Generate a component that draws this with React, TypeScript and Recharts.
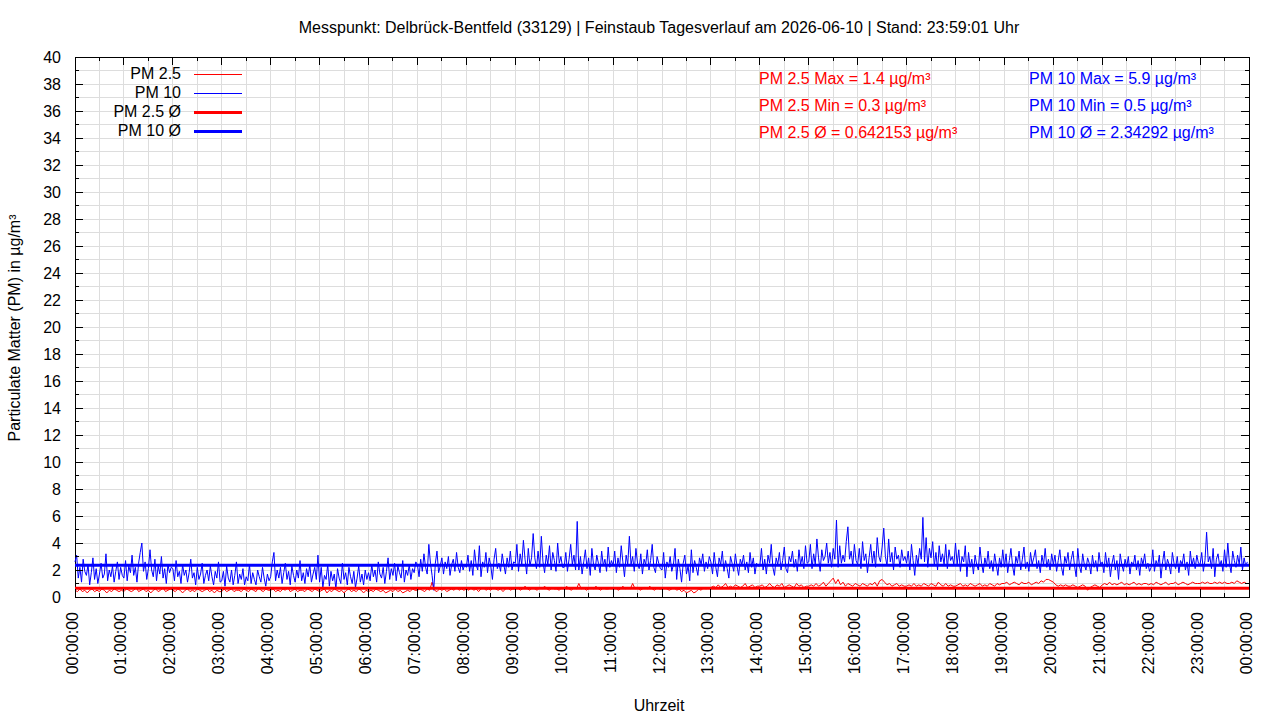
import { LineChart, Line, XAxis, YAxis, CartesianGrid, ReferenceLine, ReferenceArea } from "recharts";

// PM 10: one reading every 2 minutes (30 per hour), PM 2.5: every 3 minutes (20 per hour)
const PM10_STEP_MIN = 2;
const PM25_STEP_MIN = 3;

const pm10Values = [
    2.6, 3.1, 1.4, 2.2, 1.1, 2.8, 1.9, 1.6, 2.4, 0.9, 1.8, 2.9, 1.3, 2.1, 1.0, 1.7, 2.5, 1.4, 1.7, 3.2, 1.2, 2.0, 1.5, 2.3, 1.1, 1.9, 2.6, 1.3, 2.2, 1.6,
    1.4, 2.7, 1.2, 2.3, 1.8, 3.1, 1.6, 2.2, 1.1, 2.5, 3.3, 4.0, 1.9, 2.6, 1.3, 2.1, 3.5, 2.0, 1.5, 2.8, 1.2, 2.3, 1.7, 3.0, 1.4, 2.1, 1.0, 2.4, 1.8, 2.2,
    2.1, 1.2, 2.7, 1.5, 1.9, 1.0, 2.4, 1.6, 2.0, 1.1, 1.8, 2.8, 1.4, 1.8, 0.9, 2.2, 1.3, 1.7, 2.5, 1.0, 1.6, 2.0, 1.2, 2.3, 1.5, 0.9, 1.9, 1.4, 2.6, 1.1,
    1.2, 1.9, 0.8, 2.3, 1.4, 1.1, 2.0, 0.9, 1.6, 2.6, 1.0, 1.7, 1.3, 2.1, 0.9, 1.5, 1.2, 2.4, 1.0, 1.8, 1.3, 0.9, 2.0, 1.5, 1.1, 2.2, 1.4, 0.8, 1.7, 1.2,
    1.5, 2.6, 3.3, 1.2, 2.0, 1.4, 2.2, 1.0, 1.8, 2.5, 1.3, 1.9, 0.9, 2.3, 1.6, 1.1, 2.0, 1.4, 2.7, 1.2, 1.8, 1.0, 2.1, 1.5, 2.4, 1.1, 1.7, 2.2, 1.3, 3.1,
    1.1, 2.2, 0.7, 1.6, 1.3, 2.4, 0.8, 1.9, 1.2, 1.7, 0.6, 2.1, 1.4, 1.0, 2.5, 1.3, 1.8, 0.9, 2.2, 1.5, 1.0, 1.9, 0.7, 1.4, 2.3, 1.1, 1.7, 0.9, 2.0, 1.3,
    1.8, 1.2, 2.4, 1.5, 2.0, 1.1, 2.6, 1.7, 1.4, 2.2, 1.0, 1.9, 2.9, 1.3, 2.1, 1.6, 2.5, 1.2, 2.3, 1.8, 1.4, 2.7, 1.1, 2.0, 1.6, 2.4, 1.3, 2.1, 1.8, 2.6,
    2.4, 1.5, 2.8, 1.9, 3.2, 2.2, 1.7, 3.9, 2.5, 1.6, 0.5, 2.5, 3.4, 1.8, 2.3, 2.9, 1.7, 2.6, 2.1, 3.0, 1.6, 2.4, 2.8, 1.9, 3.3, 2.2, 1.8, 2.7, 2.0, 2.4,
    2.2, 3.1, 1.9, 2.7, 1.6, 3.5, 2.4, 2.0, 3.8, 1.5, 2.6, 2.2, 3.3, 1.8, 2.9, 2.3, 1.3, 2.8, 3.6, 2.1, 2.5, 1.9, 3.2, 2.4, 1.7, 2.9, 2.2, 3.4, 2.0, 2.6,
    2.5, 3.9, 1.9, 3.2, 2.4, 4.2, 2.8, 1.7, 3.6, 2.3, 2.9, 4.7, 2.9, 2.1, 3.4, 2.2, 4.5, 2.6, 1.8, 3.1, 2.4, 3.8, 2.0, 3.3, 2.7, 1.9, 4.0, 2.5, 3.0, 2.2,
    2.2, 3.3, 1.9, 2.8, 3.9, 2.4, 3.1, 2.0, 5.6, 2.0, 3.0, 1.7, 2.6, 3.5, 2.1, 2.9, 1.6, 3.6, 2.4, 2.0, 3.1, 2.5, 1.8, 3.4, 2.3, 2.8, 1.9, 3.7, 2.2, 2.7,
    2.3, 3.4, 1.8, 2.9, 2.2, 3.8, 2.6, 1.5, 3.1, 2.4, 4.5, 2.4, 3.0, 1.9, 3.6, 2.5, 2.1, 3.2, 1.7, 2.8, 2.4, 3.5, 2.0, 2.7, 3.9, 2.2, 1.8, 3.0, 2.5, 2.1,
    2.0, 3.3, 1.4, 2.6, 2.2, 3.0, 1.9, 2.4, 3.6, 1.3, 2.8, 2.1, 1.1, 2.5, 3.1, 1.7, 2.3, 1.2, 3.5, 1.8, 2.7, 2.2, 1.6, 2.9, 2.4, 3.2, 1.9, 2.6, 2.1, 3.0,
    2.6, 1.7, 3.3, 2.2, 1.5, 2.9, 2.4, 3.4, 1.9, 2.7, 2.1, 1.4, 3.0, 2.5, 1.9, 3.2, 2.3, 1.6, 2.8, 2.4, 3.1, 2.0, 2.6, 1.8, 3.3, 2.2, 2.9, 1.7, 2.5, 2.3,
    2.3, 3.6, 2.0, 2.8, 1.7, 3.1, 2.5, 3.9, 2.2, 1.6, 2.9, 2.4, 3.3, 2.0, 2.7, 3.7, 2.1, 1.8, 3.0, 2.6, 3.4, 2.2, 2.8, 1.9, 3.5, 2.4, 3.0, 2.1, 3.8, 2.5,
    2.6, 3.9, 2.1, 3.2, 2.4, 4.3, 2.9, 1.9, 3.5, 2.7, 3.0, 4.0, 2.5, 3.3, 2.2, 3.6, 2.8, 5.7, 2.2, 3.8, 2.5, 3.1, 2.6, 4.1, 5.2, 2.8, 3.4, 2.3, 3.9, 2.7,
    2.4, 3.6, 2.1, 4.1, 2.7, 3.2, 1.8, 2.9, 3.9, 2.5, 3.4, 2.2, 4.4, 3.0, 2.6, 3.7, 5.1, 3.0, 2.3, 4.3, 2.6, 3.3, 2.0, 3.7, 2.8, 3.1, 2.2, 3.5, 2.7, 3.0,
    2.5, 3.4, 2.0, 3.9, 2.7, 1.6, 3.1, 2.4, 3.6, 2.8, 5.9, 2.6, 4.4, 2.2, 3.6, 2.9, 4.1, 2.3, 3.3, 2.0, 3.8, 2.6, 3.2, 2.4, 3.9, 2.1, 3.5, 2.7, 3.0, 2.4,
    4.0, 2.4, 3.5, 1.9, 3.0, 2.6, 3.8, 1.5, 3.3, 2.2, 2.8, 1.7, 3.1, 2.4, 2.0, 3.7, 2.5, 1.8, 2.9, 2.3, 3.4, 2.1, 2.7, 1.9, 3.2, 2.4, 1.6, 2.9, 2.2, 3.5,
    2.2, 3.2, 1.8, 2.7, 3.6, 2.3, 1.6, 3.0, 2.5, 3.4, 2.0, 2.8, 3.7, 2.1, 2.6, 1.9, 3.3, 2.4, 2.9, 3.5, 2.1, 2.7, 1.8, 3.1, 2.4, 3.6, 2.2, 2.8, 2.0, 3.2,
    2.4, 3.1, 1.9, 2.7, 3.5, 2.2, 1.6, 3.0, 2.5, 3.3, 2.0, 2.8, 3.4, 2.3, 1.5, 3.6, 2.3, 1.8, 3.2, 2.4, 2.0, 2.9, 2.5, 1.7, 3.1, 2.2, 2.7, 1.9, 3.3, 2.4,
    2.6, 1.8, 3.3, 2.2, 2.9, 1.5, 2.5, 3.1, 2.0, 2.7, 1.3, 3.2, 2.4, 1.9, 2.8, 2.2, 3.0, 1.7, 2.6, 2.3, 3.1, 2.0, 2.7, 1.6, 2.9, 2.4, 3.2, 2.1, 2.5, 1.9,
    2.2, 3.5, 1.9, 2.7, 2.3, 3.1, 1.4, 2.6, 3.4, 2.0, 2.8, 2.4, 1.7, 3.3, 2.5, 2.1, 3.0, 1.8, 2.7, 2.4, 3.2, 2.0, 2.6, 1.6, 3.4, 2.3, 2.9, 2.1, 3.1, 2.5,
    2.4, 3.3, 1.9, 2.7, 4.8, 2.6, 3.0, 2.1, 3.6, 1.5, 2.8, 3.2, 2.3, 2.7, 1.9, 3.5, 2.2, 4.0, 2.5, 1.8, 3.4, 2.7, 2.2, 3.1, 2.4, 3.7, 2.0, 2.9, 2.3, 2.6,
];

const pm25Values = [
    0.5, 0.4, 0.6, 0.4, 0.5, 0.3, 0.5, 0.6, 0.4, 0.5, 0.4, 0.6, 0.5, 0.3, 0.5, 0.4, 0.6, 0.5, 0.4, 0.5,
    0.4, 0.6, 0.5, 0.4, 0.5, 0.7, 0.4, 0.5, 0.6, 0.4, 0.5, 0.3, 0.5, 0.6, 0.4, 0.5, 0.7, 0.4, 0.5, 0.6,
    0.5, 0.4, 0.6, 0.5, 0.3, 0.5, 0.6, 0.4, 0.5, 0.4, 0.6, 0.5, 0.4, 0.5, 0.6, 0.4, 0.5, 0.3, 0.5, 0.4,
    0.4, 0.6, 0.4, 0.5, 0.6, 0.4, 0.5, 0.5, 0.4, 0.6, 0.5, 0.4, 0.6, 0.5, 0.4, 0.7, 0.5, 0.4, 0.6, 0.5,
    0.5, 0.6, 0.4, 0.5, 0.4, 0.6, 0.5, 0.7, 0.4, 0.5, 0.6, 0.4, 0.5, 0.5, 0.4, 0.6, 0.5, 0.4, 0.6, 0.5,
    0.4, 0.5, 0.6, 0.3, 0.5, 0.4, 0.6, 0.5, 0.4, 0.5, 0.3, 0.5, 0.6, 0.4, 0.5, 0.4, 0.6, 0.5, 0.3, 0.5,
    0.4, 0.5, 0.4, 0.6, 0.5, 0.4, 0.5, 0.3, 0.4, 0.5, 0.4, 0.6, 0.4, 0.5, 0.3, 0.4, 0.5, 0.4, 0.6, 0.5,
    0.5, 0.6, 0.5, 0.4, 0.6, 0.5, 1.1, 0.5, 0.4, 0.6, 0.5, 0.6, 0.4, 0.5, 0.6, 0.5, 0.7, 0.5, 0.6, 0.5,
    0.6, 0.5, 0.7, 0.5, 0.6, 0.4, 0.6, 0.7, 0.5, 0.6, 0.5, 0.7, 0.6, 0.5, 0.6, 0.4, 0.6, 0.7, 0.5, 0.6,
    0.6, 0.7, 0.5, 0.6, 0.8, 0.6, 0.5, 0.7, 0.6, 0.5, 0.7, 0.6, 0.8, 0.6, 0.5, 0.7, 0.6, 0.6, 0.5, 0.7,
    0.6, 0.8, 0.6, 0.5, 0.7, 0.6, 1.0, 0.6, 0.7, 0.5, 0.6, 0.7, 0.6, 0.8, 0.6, 0.5, 0.7, 0.6, 0.6, 0.7,
    0.6, 0.7, 0.5, 0.6, 0.8, 0.6, 0.7, 0.6, 1.0, 0.6, 0.7, 0.5, 0.6, 0.7, 0.6, 0.8, 0.6, 0.5, 0.7, 0.6,
    0.6, 0.7, 0.6, 0.5, 0.6, 0.7, 0.5, 0.6, 0.4, 0.5, 0.3, 0.4, 0.5, 0.3, 0.4, 0.6, 0.5, 0.7, 0.6, 0.7,
    0.7, 0.8, 0.7, 0.9, 0.7, 0.8, 1.0, 0.7, 0.8, 0.7, 0.9, 0.8, 0.7, 0.8, 1.0, 0.7, 0.8, 0.9, 0.7, 0.8,
    0.8, 0.9, 0.7, 0.8, 1.0, 0.8, 0.7, 0.9, 0.8, 1.0, 0.7, 0.8, 0.9, 0.8, 0.7, 1.0, 0.8, 0.9, 0.7, 0.8,
    0.8, 0.9, 0.8, 1.0, 0.8, 0.9, 1.1, 0.8, 1.0, 1.2, 1.4, 1.0, 1.3, 0.9, 1.1, 0.8, 1.0, 0.9, 0.8, 1.0,
    0.9, 0.8, 1.0, 0.9, 0.8, 1.0, 0.9, 1.1, 0.8, 1.2, 1.3, 1.1, 0.9, 1.0, 0.8, 0.9, 1.0, 0.8, 0.9, 0.8,
    0.8, 0.9, 0.8, 1.0, 0.8, 0.9, 0.8, 1.0, 0.9, 0.8, 1.0, 0.9, 0.8, 1.1, 0.9, 0.8, 1.0, 0.8, 0.9, 0.8,
    0.8, 0.9, 1.0, 0.8, 0.9, 0.8, 1.0, 0.9, 0.8, 0.9, 1.0, 0.8, 0.9, 0.8, 1.0, 0.9, 0.8, 1.0, 0.9, 1.0,
    1.0, 1.1, 0.9, 1.0, 1.1, 1.0, 0.9, 1.1, 1.0, 1.0, 1.1, 0.9, 1.0, 1.1, 1.0, 1.2, 1.1, 1.3, 1.3, 1.2,
    1.1, 0.9, 0.8, 0.9, 0.8, 0.9, 0.8, 0.8, 0.9, 0.8, 0.7, 0.8, 0.9, 0.8, 0.5, 0.7, 0.8, 0.9, 0.8, 0.7,
    0.9, 1.0, 0.9, 1.1, 0.9, 1.0, 0.9, 1.0, 1.1, 0.9, 1.0, 0.9, 1.0, 1.1, 0.9, 1.0, 0.9, 1.0, 1.0, 0.9,
    1.0, 0.9, 1.1, 1.0, 0.9, 1.0, 1.1, 0.9, 1.0, 1.0, 1.1, 0.9, 1.0, 1.1, 1.0, 0.9, 1.0, 1.1, 1.0, 1.0,
    1.0, 1.1, 1.0, 1.1, 1.0, 1.0, 1.1, 1.0, 1.1, 1.0, 1.1, 1.0, 1.0, 1.1, 1.0, 1.2, 1.1, 1.0, 1.1, 1.0,
];

const PM25_MEAN = 0.642153;
const PM10_MEAN = 2.34292;

const hourLabels = [
    "00:00:00", "01:00:00", "02:00:00", "03:00:00", "04:00:00", "05:00:00", "06:00:00", "07:00:00",
    "08:00:00", "09:00:00", "10:00:00", "11:00:00", "12:00:00", "13:00:00", "14:00:00", "15:00:00",
    "16:00:00", "17:00:00", "18:00:00", "19:00:00", "20:00:00", "21:00:00", "22:00:00", "23:00:00",
    "00:00:00",
];

// half hour ticks (minor) and full hours (major) on x, every unit on y
const xTicks = Array.from({ length: 49 }, (_, i) => i * 30);
const yTicks = Array.from({ length: 41 }, (_, i) => i);

const statsPm25 = ["PM 2.5 Max = 1.4 µg/m³", "PM 2.5 Min = 0.3 µg/m³", "PM 2.5 Ø = 0.642153 µg/m³"];
const statsPm10 = ["PM 10 Max = 5.9 µg/m³", "PM 10 Min = 0.5 µg/m³", "PM 10 Ø = 2.34292 µg/m³"];

const legendItems = [
    { label: "PM 2.5", color: "#ff0000", width: 1 },
    { label: "PM 10", color: "#0000ff", width: 1 },
    { label: "PM 2.5 Ø", color: "#ff0000", width: 3 },
    { label: "PM 10 Ø", color: "#0000ff", width: 3 },
];

const pm10Data = pm10Values.map((v, i) => ({ minute: i * PM10_STEP_MIN, pm10: v }));
const pm25Data = pm25Values.map((v, i) => ({ minute: i * PM25_STEP_MIN, pm25: v }));

const FONT = "'Liberation Sans', Arial, sans-serif";
const PLOT_W = 1174;
const PLOT_H = 540;

const XTick = (props: any) => {
    const { x, y, payload } = props;
    const v = payload.value as number;
    const major = v % 60 === 0;
    const len = major ? 8 : 4;
    return (
        <g>
            <line x1={x} y1={y} x2={x} y2={y - len} stroke="#000" shapeRendering="crispEdges" />
            <line x1={x} y1={y - PLOT_H} x2={x} y2={y - PLOT_H + len} stroke="#000" shapeRendering="crispEdges" />
            {major && (
                <text
                    x={x - 3}
                    y={y + 15}
                    transform={`rotate(-90 ${x - 3} ${y + 15})`}
                    textAnchor="end"
                    dominantBaseline="central"
                    fontFamily={FONT}
                    fontSize={16}
                    fill="#000"
                >
                    {hourLabels[v / 60]}
                </text>
            )}
        </g>
    );
};

const YTick = (props: any) => {
    const { x, y, payload } = props;
    const v = payload.value as number;
    const major = v % 2 === 0;
    const len = major ? 8 : 4;
    return (
        <g>
            <line x1={x} y1={y} x2={x + len} y2={y} stroke="#000" shapeRendering="crispEdges" />
            <line x1={x + PLOT_W} y1={y} x2={x + PLOT_W - len} y2={y} stroke="#000" shapeRendering="crispEdges" />
            {major && (
                <text
                    x={x - 14}
                    y={y}
                    textAnchor="end"
                    dominantBaseline="central"
                    fontFamily={FONT}
                    fontSize={16}
                    fill="#000"
                >
                    {v}
                </text>
            )}
        </g>
    );
};

export default function App() {
    return (
        <div style={{ position: "absolute", left: 0, top: 0, width: 1280, height: 720, background: "#fff" }}>
            <LineChart width={1280} height={720} margin={{ top: 57, right: 31, bottom: 0, left: 0 }}>
                <CartesianGrid stroke="#dddddd" strokeWidth={1} shapeRendering="crispEdges" />
                <XAxis
                    dataKey="minute"
                    type="number"
                    domain={[0, 1440]}
                    ticks={xTicks}
                    interval={0}
                    height={123}
                    tickSize={0}
                    tickMargin={0}
                    tickLine={false}
                    axisLine={false}
                    tick={<XTick />}
                />
                <YAxis
                    type="number"
                    domain={[0, 40]}
                    ticks={yTicks}
                    interval={0}
                    width={75}
                    tickSize={0}
                    tickMargin={0}
                    tickLine={false}
                    axisLine={false}
                    tick={<YTick />}
                />
                <Line
                    data={pm25Data}
                    dataKey="pm25"
                    stroke="#ff0000"
                    strokeWidth={1}
                    dot={false}
                    type="linear"
                    isAnimationActive={false}
                />
                <Line
                    data={pm10Data}
                    dataKey="pm10"
                    stroke="#0000ff"
                    strokeWidth={1}
                    dot={false}
                    type="linear"
                    isAnimationActive={false}
                />
                <ReferenceLine y={PM25_MEAN} stroke="#ff0000" strokeWidth={3} />
                <ReferenceLine y={PM10_MEAN} stroke="#0000ff" strokeWidth={3} />
                <ReferenceArea
                    x1={0}
                    x2={1440}
                    y1={0}
                    y2={40}
                    fill="none"
                    stroke="#000"
                    strokeWidth={1}
                    shapeRendering="crispEdges"
                />
            </LineChart>

            <svg
                width={1280}
                height={720}
                style={{ position: "absolute", left: 0, top: 0, pointerEvents: "none" }}
                fontFamily={FONT}
                fontSize={16}
            >
                <text x={659} y={27} textAnchor="middle" dominantBaseline="central" fill="#000">
                    Messpunkt: Delbrück-Bentfeld (33129) | Feinstaub Tagesverlauf am 2026-06-10 | Stand: 23:59:01 Uhr
                </text>
                <text x={659} y={705} textAnchor="middle" dominantBaseline="central" fill="#000">
                    Uhrzeit
                </text>
                <text
                    x={14}
                    y={328}
                    transform="rotate(-90 14 328)"
                    textAnchor="middle"
                    dominantBaseline="central"
                    fill="#000"
                >
                    Particulate Matter (PM) in µg/m³
                </text>

                {legendItems.map((item, i) => (
                    <g key={item.label}>
                        <text x={181} y={73 + i * 19} textAnchor="end" dominantBaseline="central" fill="#000">
                            {item.label}
                        </text>
                        <line
                            x1={194}
                            x2={242}
                            y1={74.5 + i * 19}
                            y2={74.5 + i * 19}
                            stroke={item.color}
                            strokeWidth={item.width}
                        />
                    </g>
                ))}

                {statsPm25.map((s, i) => (
                    <text key={s} x={759} y={78 + i * 27} dominantBaseline="central" fill="#ff0000">
                        {s}
                    </text>
                ))}
                {statsPm10.map((s, i) => (
                    <text key={s} x={1029} y={78 + i * 27} dominantBaseline="central" fill="#0000ff">
                        {s}
                    </text>
                ))}
            </svg>
        </div>
    );
}
